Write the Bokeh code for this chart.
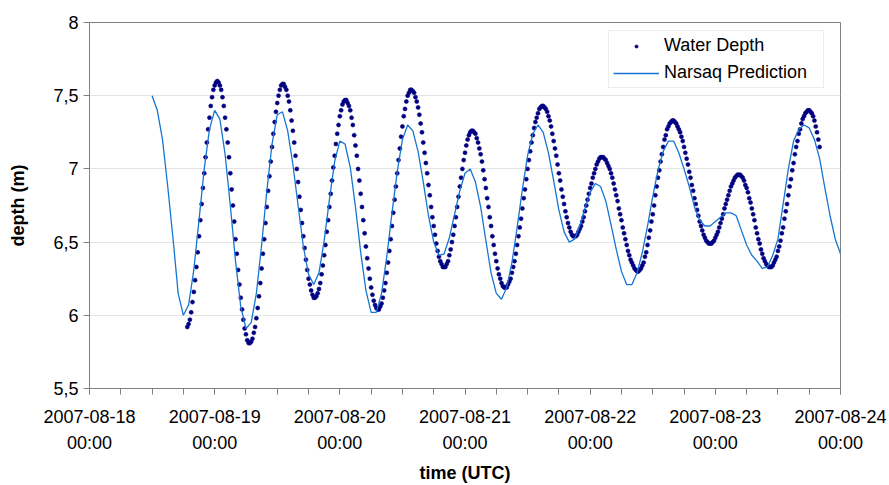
from datetime import datetime
import pandas as pd
from bokeh.plotting import figure
from bokeh.models import Range1d, FixedTicker, DatetimeTickFormatter, Legend, LegendItem
from bokeh.embed import file_html
from bokeh.resources import INLINE

# ---- data ----
depth_start = "2007-08-18 18:45"   # first water-depth sample
depth_step = "15min"
water_depth = [
    5.92, 5.94, 5.97, 6.02, 6.09, 6.16, 6.24, 6.33, 6.43, 6.54, 6.65, 6.76, 6.87, 6.97, 7.08, 7.18, 7.27, 7.35, 7.43, 7.49, 7.54, 7.57, 7.59, 7.60,
    7.59, 7.57, 7.54, 7.49, 7.43, 7.35, 7.27, 7.18, 7.08, 6.97, 6.86, 6.75, 6.64, 6.52, 6.42, 6.31, 6.21, 6.12, 6.04, 5.97, 5.91, 5.87, 5.83, 5.81,
    5.81, 5.82, 5.84, 5.88, 5.92, 5.98, 6.05, 6.13, 6.22, 6.32, 6.42, 6.52, 6.63, 6.74, 6.85, 6.95, 7.05, 7.15, 7.24, 7.32, 7.39, 7.45, 7.50, 7.54, 7.57, 7.58,
    7.58, 7.56, 7.54, 7.50, 7.46, 7.40, 7.33, 7.26, 7.18, 7.09, 7.00, 6.91, 6.81, 6.72, 6.63, 6.54, 6.46, 6.38, 6.31, 6.25, 6.21, 6.17, 6.14, 6.12,
    6.12, 6.13, 6.15, 6.18, 6.22, 6.28, 6.34, 6.41, 6.48, 6.57, 6.65, 6.74, 6.83, 6.92, 7.01, 7.09, 7.17, 7.24, 7.30, 7.36, 7.40, 7.44, 7.46, 7.47,
    7.47, 7.45, 7.43, 7.40, 7.35, 7.30, 7.23, 7.16, 7.09, 7.00, 6.92, 6.83, 6.74, 6.65, 6.56, 6.47, 6.39, 6.32, 6.25, 6.19, 6.14, 6.10, 6.07, 6.05, 6.04,
    6.04, 6.06, 6.08, 6.12, 6.17, 6.22, 6.29, 6.36, 6.44, 6.52, 6.61, 6.70, 6.79, 6.88, 6.97, 7.06, 7.14, 7.22, 7.29, 7.36, 7.41, 7.46, 7.50, 7.52, 7.54,
    7.54, 7.53, 7.52, 7.49, 7.46, 7.42, 7.37, 7.31, 7.25, 7.18, 7.11, 7.04, 6.97, 6.89, 6.82, 6.74, 6.67, 6.61, 6.55, 6.49, 6.44, 6.40, 6.37, 6.35, 6.33, 6.33,
    6.33, 6.35, 6.37, 6.41, 6.45, 6.50, 6.55, 6.61, 6.67, 6.74, 6.81, 6.88, 6.94, 7.00, 7.06, 7.11, 7.16, 7.20, 7.23, 7.25, 7.26,
    7.26, 7.25, 7.24, 7.21, 7.18, 7.14, 7.10, 7.05, 6.99, 6.93, 6.87, 6.80, 6.74, 6.67, 6.61, 6.54, 6.48, 6.42, 6.37, 6.32, 6.28, 6.25, 6.22, 6.20, 6.19,
    6.19, 6.19, 6.21, 6.23, 6.25, 6.29, 6.33, 6.37, 6.42, 6.48, 6.54, 6.60, 6.66, 6.73, 6.80, 6.86, 6.93, 7.00, 7.06, 7.12, 7.18, 7.23, 7.28, 7.32, 7.35, 7.38, 7.41, 7.42, 7.43,
    7.43, 7.42, 7.41, 7.39, 7.36, 7.33, 7.29, 7.24, 7.19, 7.14, 7.09, 7.03, 6.97, 6.92, 6.86, 6.81, 6.76, 6.71, 6.67, 6.63, 6.60, 6.57, 6.55, 6.54, 6.54,
    6.54, 6.55, 6.57, 6.59, 6.61, 6.64, 6.67, 6.71, 6.75, 6.79, 6.83, 6.87, 6.90, 6.94, 6.97, 7.00, 7.03, 7.05, 7.07, 7.08, 7.08,
    7.08, 7.07, 7.06, 7.04, 7.02, 7.00, 6.97, 6.94, 6.90, 6.86, 6.82, 6.78, 6.73, 6.69, 6.65, 6.60, 6.56, 6.52, 6.48, 6.44, 6.41, 6.38, 6.36, 6.34, 6.32, 6.31, 6.30,
    6.30, 6.31, 6.32, 6.34, 6.36, 6.40, 6.43, 6.48, 6.53, 6.58, 6.64, 6.69, 6.75, 6.82, 6.88, 6.94, 6.99, 7.05, 7.10, 7.15, 7.20, 7.23, 7.27, 7.29, 7.31, 7.32, 7.33,
    7.33, 7.32, 7.31, 7.29, 7.27, 7.25, 7.22, 7.19, 7.15, 7.11, 7.07, 7.03, 6.98, 6.94, 6.89, 6.85, 6.80, 6.76, 6.72, 6.68, 6.64, 6.61, 6.58, 6.55, 6.53, 6.51, 6.50, 6.49, 6.49,
    6.49, 6.50, 6.51, 6.53, 6.55, 6.57, 6.60, 6.63, 6.66, 6.69, 6.73, 6.76, 6.79, 6.82, 6.85, 6.88, 6.90, 6.92, 6.94, 6.95, 6.96, 6.96,
    6.96, 6.95, 6.94, 6.92, 6.89, 6.87, 6.84, 6.80, 6.77, 6.73, 6.69, 6.65, 6.60, 6.56, 6.52, 6.49, 6.45, 6.42, 6.39, 6.37, 6.35, 6.34, 6.33, 6.33,
    6.33, 6.34, 6.36, 6.38, 6.40, 6.44, 6.47, 6.51, 6.56, 6.60, 6.66, 6.71, 6.76, 6.82, 6.88, 6.93, 6.99, 7.04, 7.10, 7.15, 7.19, 7.24, 7.27, 7.31, 7.34, 7.36, 7.38, 7.39, 7.40,
    7.40, 7.39, 7.38, 7.36, 7.33, 7.29, 7.25, 7.20, 7.15,
]

pred_start = "2007-08-18 12:00"    # first prediction value
pred_step = "1h"
narsaq_prediction = [
    7.50, 7.40, 7.20, 6.88, 6.53, 6.15, 6.00, 6.07, 6.31, 6.65, 7.00, 7.27,
    7.40, 7.34, 7.10, 6.75, 6.37, 6.06, 5.91, 5.95, 6.15, 6.48, 6.85, 7.17,
    7.37, 7.39, 7.26, 7.03, 6.75, 6.47, 6.28, 6.21, 6.29, 6.51, 6.79, 7.05,
    7.19, 7.17, 7.01, 6.74, 6.43, 6.17, 6.02, 6.02, 6.15, 6.40, 6.70, 6.98,
    7.20, 7.30, 7.26, 7.12, 6.91, 6.68, 6.50, 6.41, 6.42, 6.53, 6.69, 6.85,
    6.97, 7.00, 6.91, 6.74, 6.51, 6.29, 6.15, 6.11, 6.19, 6.36, 6.60, 6.86,
    7.09, 7.24, 7.30, 7.25, 7.11, 6.92, 6.72, 6.57, 6.50, 6.52, 6.61, 6.73,
    6.84, 6.90, 6.88, 6.78, 6.62, 6.45, 6.30, 6.21, 6.21, 6.29, 6.43, 6.61,
    6.81, 6.99, 7.12, 7.19, 7.19, 7.11, 7.00, 6.88, 6.74, 6.65, 6.61, 6.61,
    6.64, 6.67, 6.70, 6.70, 6.68, 6.58, 6.48, 6.41, 6.37, 6.32, 6.33, 6.41,
    6.52, 6.76, 7.00, 7.19, 7.27, 7.30, 7.28, 7.20, 7.07, 6.87, 6.68, 6.52,
    6.42,
]

x_start = datetime(2007, 8, 18)
x_end = datetime(2007, 8, 24)
x_major_step = "1D"
x_minor_step = "6h"
x_label_format = "%Y-%m-%d\n%H:%M"

y_ticks = [5.5, 6.0, 6.5, 7.0, 7.5, 8.0]
y_tick_labels = ["5,5", "6", "6,5", "7", "7,5", "8"]

series_names = ["Water Depth", "Narsaq Prediction"]

# ---- build ----
depth_time = pd.date_range(depth_start, periods=len(water_depth), freq=depth_step)
pred_time = pd.date_range(pred_start, periods=len(narsaq_prediction), freq=pred_step)


def to_ms(idx):
    return [t.timestamp() * 1000.0 for t in idx]


major_ms = to_ms(pd.date_range(x_start, x_end, freq=x_major_step))
minor_ms = to_ms(pd.date_range(x_start, x_end, freq=x_minor_step))

FONT = "Liberation Sans"
DOT_COLOR = "#000080"
LINE_COLOR = "#1675D3"

p = figure(
    width=889, height=485,
    x_axis_type="datetime",
    x_range=Range1d(x_start, x_end),
    y_range=Range1d(y_ticks[0], y_ticks[-1]),
    output_backend="svg", toolbar_location=None,
    min_border_left=89, min_border_right=49, min_border_top=22, min_border_bottom=96,
    background_fill_color="white", border_fill_color="white",
)
p.outline_line_color = "#808080"
p.outline_line_width = 1

p.xgrid.visible = False
p.ygrid.grid_line_color = "#e4e4e4"
p.ygrid.grid_line_width = 1

p.xaxis.ticker = FixedTicker(ticks=major_ms, minor_ticks=minor_ms)
p.xaxis.formatter = DatetimeTickFormatter(
    microseconds=x_label_format, milliseconds=x_label_format, seconds=x_label_format,
    minsec=x_label_format, minutes=x_label_format, hourmin=x_label_format,
    hours=x_label_format, days=x_label_format, months=x_label_format, years=x_label_format,
    strip_leading_zeros=False,
)
p.yaxis.ticker = FixedTicker(ticks=y_ticks)
p.yaxis.major_label_overrides = dict(zip(y_ticks, y_tick_labels))

for ax in (p.xaxis[0], p.yaxis[0]):
    ax.axis_line_color = "#808080"
    ax.major_tick_line_color = "#808080"
    ax.minor_tick_line_color = "#808080"
    ax.major_tick_in = 0
    ax.major_tick_out = 6
    ax.minor_tick_in = 0
    ax.minor_tick_out = 6
    ax.major_label_text_font = FONT
    ax.major_label_text_font_size = "18px"
    ax.major_label_text_color = "black"
    ax.axis_label_text_font = FONT
    ax.axis_label_text_font_style = "bold"
    ax.axis_label_text_font_size = "18px"
    ax.axis_label_text_color = "black"

p.yaxis.minor_tick_line_color = None
p.xaxis.axis_label = "time (UTC)"
p.yaxis.axis_label = "depth (m)"
p.xaxis.major_label_standoff = 12
p.xaxis.major_label_text_line_height = 1.3
p.xaxis.axis_label_standoff = 7
p.yaxis.major_label_standoff = 5
p.yaxis.axis_label_standoff = 22

dots = p.scatter(depth_time, water_depth, marker="circle", size=4,
                 fill_color=DOT_COLOR, line_color=DOT_COLOR, line_width=0.6)
line = p.line(pred_time, narsaq_prediction, line_color=LINE_COLOR, line_width=1.3)

legend = Legend(
    items=[LegendItem(label=series_names[0], renderers=[dots]),
           LegendItem(label=series_names[1], renderers=[line])],
    location=(519, 300),
    padding=4, spacing=6, margin=0,
    glyph_width=46, glyph_height=8, label_height=20, label_standoff=5,
    label_width=155,
    label_text_font=FONT, label_text_font_size="18px", label_text_color="black",
    border_line_color="#d9d9d9", border_line_width=1,
    background_fill_color="white", background_fill_alpha=1.0,
)
p.add_layout(legend)

open("out.html", "w").write(file_html(p, INLINE))
